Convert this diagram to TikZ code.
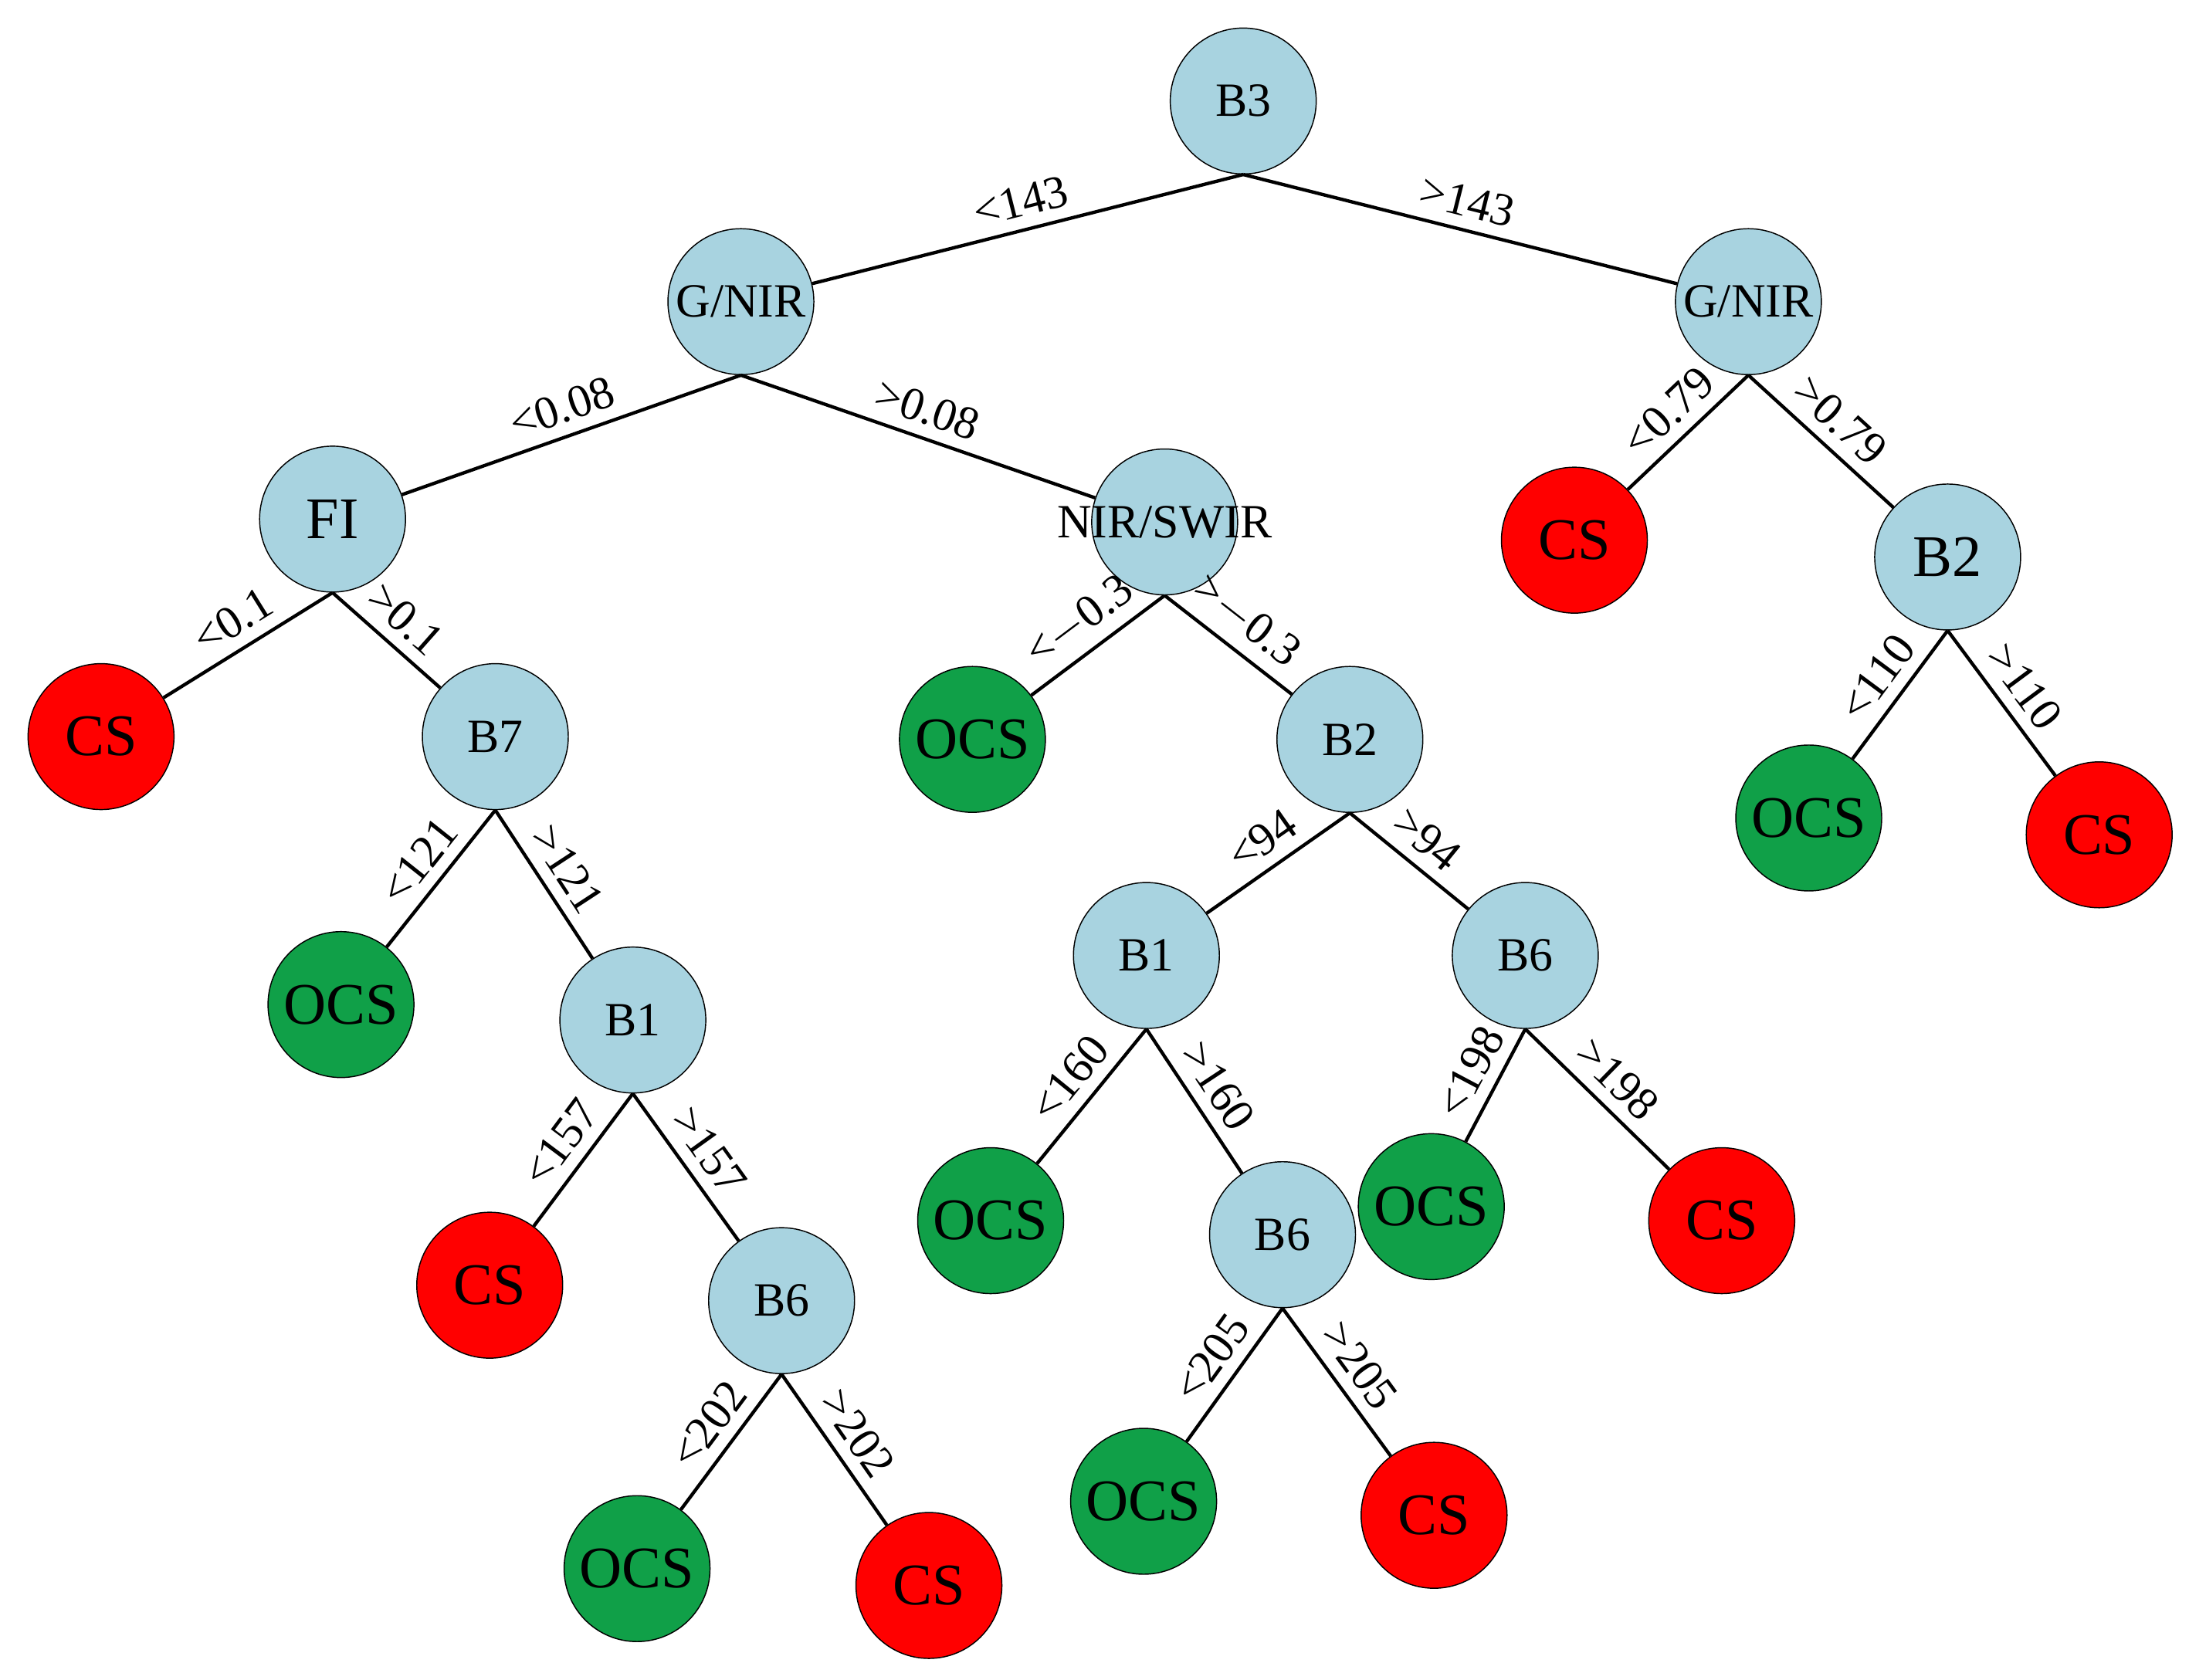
\documentclass[tikz,border=0pt]{standalone}
\usepackage{fontspec}
\setmainfont{Liberation Serif}
\begin{document}
\begin{tikzpicture}[x=0.5pt,y=-0.5pt,
 base/.style={circle,draw=black,line width=0.4pt,minimum size=52pt,inner sep=0pt},
 inn/.style={base,fill={rgb,255:red,168;green,211;blue,224},font=\fontsize{17}{17}\selectfont},
 ocs/.style={base,fill={rgb,255:red,16;green,160;blue,72},font=\fontsize{21}{21}\selectfont},
 cs/.style={base,fill={rgb,255:red,255;green,0;blue,0},font=\fontsize{21}{21}\selectfont},
 ed/.style={line width=1.2pt},
 lb/.style={sloped,above,midway,font=\fontsize{16.5}{16.5}\selectfont,inner sep=4pt}]
\useasboundingbox (0,0) rectangle (1560,1197);
\node[inn] (b3) at (886,72) {B3};
\node[inn] (gl) at (528,215) {G/NIR};
\node[inn] (gr) at (1246,215) {G/NIR};
\node[inn,font=\fontsize{21}{21}\selectfont] (fi) at (237,370) {FI};
\node[inn,label={[font=\fontsize{17}{17}\selectfont]center:NIR/SWIR}] (ns) at (830,372) {};
\node[cs] (cs1) at (72,525) {CS};
\node[inn] (b7) at (353,525) {B7};
\node[ocs] (o1) at (693,527) {OCS};
\node[inn] (b2m) at (962,527) {B2};
\node[cs] (cs2) at (1122,385) {CS};
\node[inn,font=\fontsize{21}{21}\selectfont] (b2r) at (1388,397) {B2};
\node[ocs] (o2) at (243,716) {OCS};
\node[inn] (b1l) at (451,727) {B1};
\node[inn] (b1m) at (817,681) {B1};
\node[inn] (b6r) at (1087,681) {B6};
\node[ocs] (o3) at (1289,583) {OCS};
\node[cs] (cs3) at (1496,595) {CS};
\node[cs] (cs4) at (349,916) {CS};
\node[inn] (b6l) at (557,927) {B6};
\node[ocs] (o4) at (706,870) {OCS};
\node[inn] (b6m) at (914,880) {B6};
\node[ocs] (o5) at (1020,860) {OCS};
\node[cs] (cs5) at (1227,870) {CS};
\node[ocs] (o6) at (454,1118) {OCS};
\node[cs] (cs6) at (662,1130) {CS};
\node[ocs] (o7) at (815,1070) {OCS};
\node[cs] (cs7) at (1022,1080) {CS};
\draw[ed] (b3.south) -- node[lb]{<143} (gl);
\draw[ed] (b3.south) -- node[lb]{>143} (gr);
\draw[ed] (gl.south) -- node[lb]{<0.08} (fi);
\draw[ed] (gl.south) -- node[lb]{>0.08} (ns);
\draw[ed] (gr.south) -- node[lb]{<0.79} (cs2);
\draw[ed] (gr.south) -- node[lb]{>0.79} (b2r);
\draw[ed] (fi.south) -- node[lb]{<0.1} (cs1);
\draw[ed] (fi.south) -- node[lb]{>0.1} (b7);
\draw[ed] (ns.south) -- node[lb]{<$-$0.3} (o1);
\draw[ed] (ns.south) -- node[lb]{>$-$0.3} (b2m);
\draw[ed] (b2r.south) -- node[lb]{<110} (o3);
\draw[ed] (b2r.south) -- node[lb]{>110} (cs3);
\draw[ed] (b7.south) -- node[lb]{<121} (o2);
\draw[ed] (b7.south) -- node[lb]{>121} (b1l);
\draw[ed] (b2m.south) -- node[lb]{<94} (b1m);
\draw[ed] (b2m.south) -- node[lb]{>94} (b6r);
\draw[ed] (b1l.south) -- node[lb]{<157} (cs4);
\draw[ed] (b1l.south) -- node[lb]{>157} (b6l);
\draw[ed] (b1m.south) -- node[lb]{<160} (o4);
\draw[ed] (b1m.south) -- node[lb]{>160} (b6m);
\draw[ed] (b6r.south) -- node[lb]{<198} (o5);
\draw[ed] (b6r.south) -- node[lb]{>198} (cs5);
\draw[ed] (b6l.south) -- node[lb]{<202} (o6);
\draw[ed] (b6l.south) -- node[lb]{>202} (cs6);
\draw[ed] (b6m.south) -- node[lb]{<205} (o7);
\draw[ed] (b6m.south) -- node[lb]{>205} (cs7);
\end{tikzpicture}
\end{document}
